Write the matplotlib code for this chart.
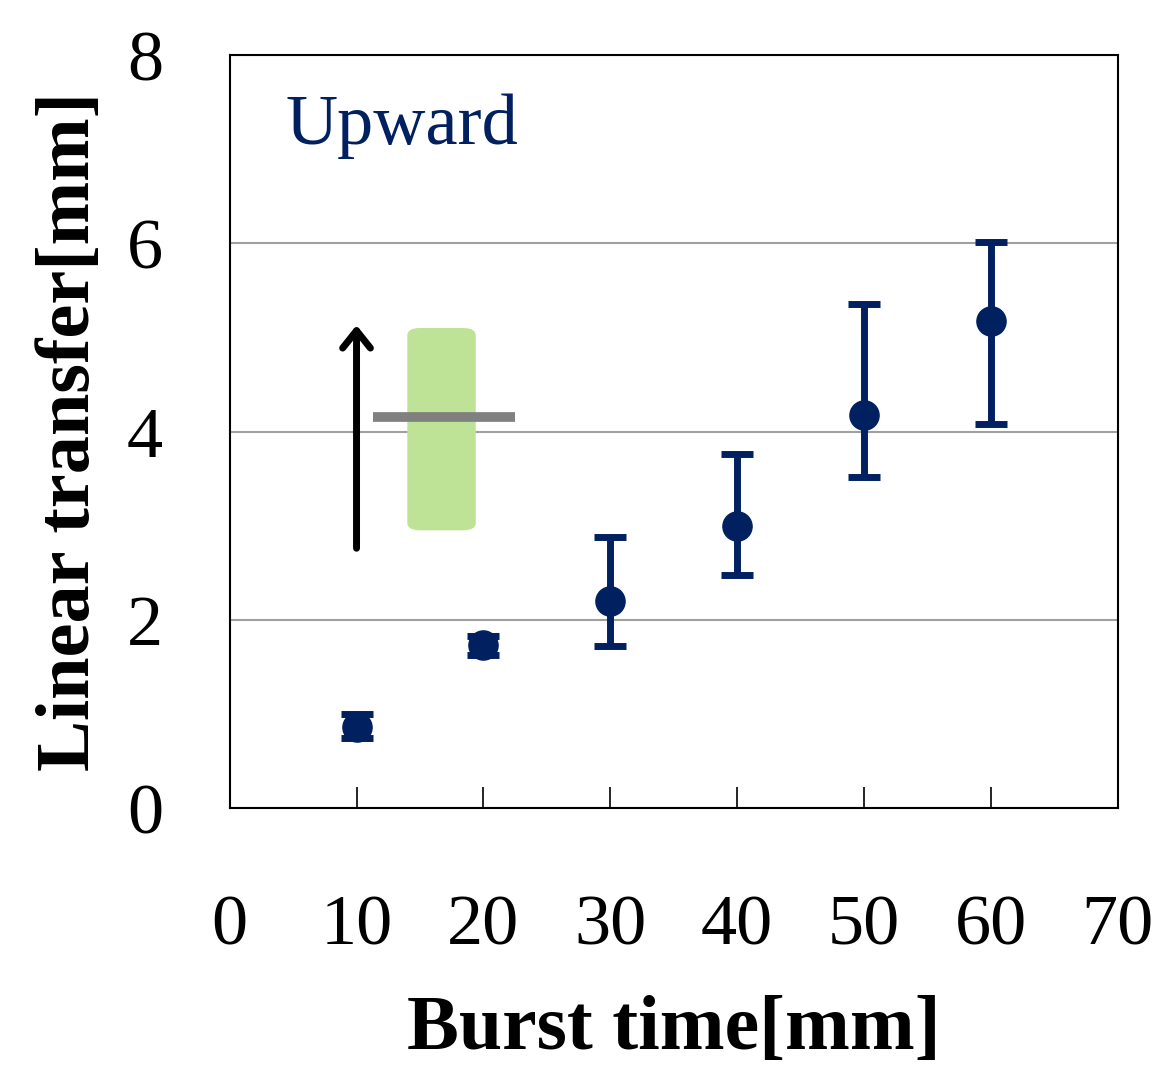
import matplotlib.pyplot as plt
from matplotlib.patches import FancyBboxPatch

plt.rcParams['font.family'] = ['Liberation Serif', 'DejaVu Serif']

# data
burst_time = [10, 20, 30, 40, 50, 60]
transfer = [0.86, 1.73, 2.20, 3.00, 4.18, 5.17]
upper = [1.00, 1.83, 2.88, 3.76, 5.36, 6.01]
lower = [0.74, 1.63, 1.72, 2.48, 3.52, 4.08]
xticks = [0, 10, 20, 30, 40, 50, 60, 70]
yticks = [0, 2, 4, 6, 8]

navy = '#002060'

fig = plt.figure(figsize=(11.6, 10.68), dpi=100)
ax = fig.add_axes([0.198, 0.2434, 0.7655, 0.7051])

yerr = [[t - l for t, l in zip(transfer, lower)],
        [u - t for t, u in zip(transfer, upper)]]
ax.errorbar(burst_time, transfer, yerr=yerr, fmt='o', color=navy,
            markersize=21, elinewidth=5, capsize=11.5, capthick=5, zorder=5)

# inset sketch: arrow, green block, gray bar
ax.annotate('', xy=(10, 5.13), xytext=(10, 2.76),
            arrowprops=dict(arrowstyle='->,head_width=1.0,head_length=1.25',
                            lw=5, color='black', joinstyle='round',
                            capstyle='round', shrinkA=0, shrinkB=0),
            zorder=3)
box = FancyBboxPatch((14.0, 2.95), 5.4, 2.15,
                     boxstyle='round,pad=0,rounding_size=1.0',
                     mutation_aspect=0.08,
                     facecolor='#BFE396', edgecolor='none', zorder=2)
ax.add_patch(box)
ax.plot([11.3, 22.5], [4.15, 4.15], color='#808080', lw=7,
        solid_capstyle='butt', zorder=4)

ax.text(4.4, 7.05, 'Upward', color=navy, fontsize=52)

ax.set_xlim(0, 70)
ax.set_ylim(0, 8)
ax.set_xticks(xticks)
ax.set_yticks(yticks)
ax.yaxis.grid(True, color='#A0A0A0', lw=1.5)
ax.set_axisbelow(True)
ax.tick_params(axis='x', direction='in', length=15, width=1.2,
               labelsize=52, pad=62)
ax.tick_params(axis='y', length=0, labelsize=52, pad=48)
for s in ax.spines.values():
    s.set_linewidth(1.5)

ax.set_xlabel('Burst time[mm]', fontsize=56, fontweight='bold', labelpad=26)
ax.set_ylabel('Linear transfer[mm]', fontsize=55, fontweight='bold', labelpad=16)

fig.savefig('out.png', dpi=100)
